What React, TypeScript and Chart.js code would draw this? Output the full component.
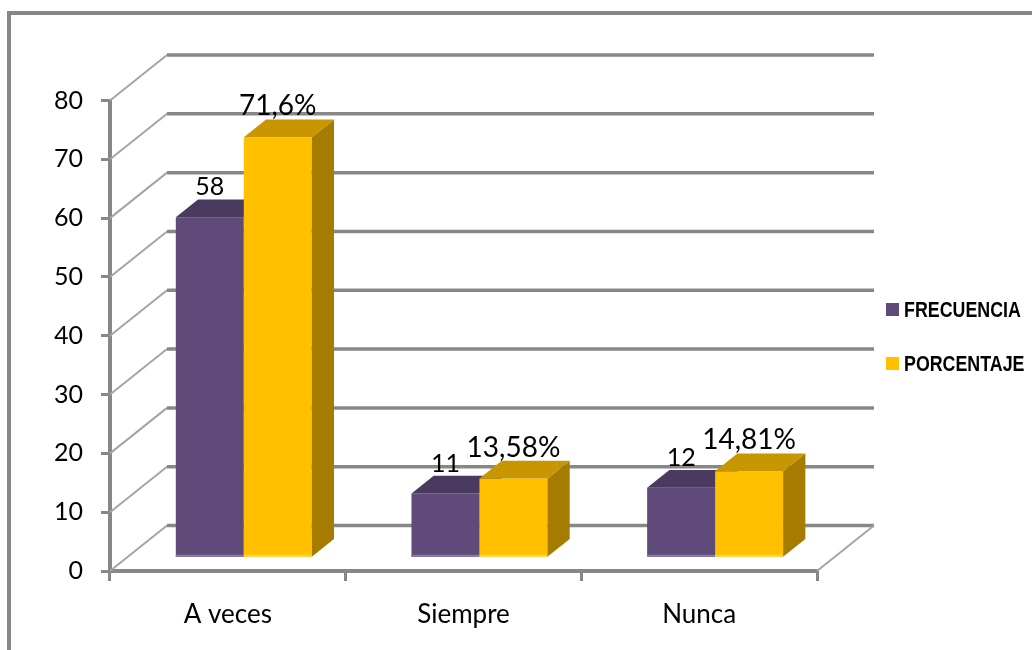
import React, { useEffect, useRef } from "react";
import { Chart, registerables } from "chart.js";

Chart.register(...registerables);

// ---- data ----
const categories = ["A veces", "Siempre", "Nunca"];
const seriesNames = ["FRECUENCIA", "PORCENTAJE"];
const frecuencia = [58, 11, 12];
const porcentaje = [71.6, 13.58, 14.81];
const yMin = 0;
const yMax = 80;
const yStep = 10;

// ---- styling ----
const FONT = "Lato, 'Open Sans', sans-serif";
const LEGEND_FONT = "'Liberation Sans', Arial, sans-serif";
const GRID = "#878787";
const WALL_LINE = "#a4a4a4";

// 3-D box: offset from the front plane to the back wall
const WALL_DX = 57;
const WALL_DY = -45.5;
// bars sit inside the box: front face depth and bar thickness (fractions of full depth)
const BAR_FRONT = 0.28;
const BAR_DEPTH = 0.39;

const faceColors = [
  { front: "#5f4a7a", top: "#4a3a60", side: "#3e3050", edge: "#8a7aa2" },
  { front: "#ffc000", top: "#c79600", side: "#a67c00", edge: "#ffd34f" },
];

function formatLabel(datasetIndex: number, v: number): string {
  if (datasetIndex === 1) return String(v).replace(".", ",") + "%";
  return String(v);
}

const box3d = {
  id: "box3d",
  beforeDatasetsDraw(chart: any) {
    const { ctx, chartArea: a, scales } = chart;
    const y = scales.y;
    ctx.save();
    ctx.lineCap = "butt";
    for (let v = yMin; v <= yMax; v += yStep) {
      const py = y.getPixelForValue(v);
      // left wall
      ctx.strokeStyle = WALL_LINE;
      ctx.lineWidth = 2;
      ctx.beginPath();
      ctx.moveTo(a.left, py);
      ctx.lineTo(a.left + WALL_DX, py + WALL_DY);
      ctx.stroke();
      // back wall
      ctx.strokeStyle = GRID;
      ctx.lineWidth = 3.5;
      ctx.beginPath();
      ctx.moveTo(a.left + WALL_DX, py + WALL_DY);
      ctx.lineTo(a.right + WALL_DX, py + WALL_DY);
      ctx.stroke();
    }
    // floor, right edge
    const p0 = y.getPixelForValue(yMin);
    ctx.strokeStyle = WALL_LINE;
    ctx.lineWidth = 2;
    ctx.beginPath();
    ctx.moveTo(a.right, p0);
    ctx.lineTo(a.right + WALL_DX, p0 + WALL_DY);
    ctx.stroke();
    ctx.restore();
  },
  // bar elements are painted back-to-front, category by category, in afterDatasetsDraw
  beforeDatasetDraw() {
    return false;
  },
  afterDatasetsDraw(chart: any) {
    const { ctx } = chart;
    const dx = WALL_DX * BAR_DEPTH;
    const dy = WALL_DY * BAR_DEPTH;
    ctx.save();
    ctx.translate(WALL_DX * BAR_FRONT, WALL_DY * BAR_FRONT);
    const n = chart.data.labels.length;
    for (let j = 0; j < n; j++) {
      chart.data.datasets.forEach((_ds: any, i: number) => {
        const bar = chart.getDatasetMeta(i).data[j];
        if (!bar) return;
        const c = faceColors[i];
        bar.draw(ctx);
        const { x, y, base, width } = bar.getProps(["x", "y", "base", "width"], true);
        const l = x - width / 2;
        const r = x + width / 2;
        ctx.fillStyle = c.edge;
        ctx.fillRect(l, base - 2, width, 2);
        ctx.fillStyle = c.side;
        ctx.beginPath();
        ctx.moveTo(r, y);
        ctx.lineTo(r + dx, y + dy);
        ctx.lineTo(r + dx, base + dy);
        ctx.lineTo(r, base);
        ctx.closePath();
        ctx.fill();
        ctx.fillStyle = c.top;
        ctx.beginPath();
        ctx.moveTo(l, y);
        ctx.lineTo(l + dx, y + dy);
        ctx.lineTo(r + dx, y + dy);
        ctx.lineTo(r, y);
        ctx.closePath();
        ctx.fill();
      });
    }
    ctx.restore();

    // value labels above each bar
    ctx.save();
    ctx.fillStyle = "#000";
    ctx.textAlign = "center";
    ctx.textBaseline = "alphabetic";
    chart.data.datasets.forEach((ds: any, i: number) => {
      const meta = chart.getDatasetMeta(i);
      ctx.font = `${i === 1 ? 28 : 25}px ${FONT}`;
      meta.data.forEach((bar: any, j: number) => {
        const { x, y } = bar.getProps(["x", "y"], true);
        const lx = x + WALL_DX * BAR_FRONT;
        const ly = y + WALL_DY * (BAR_FRONT + BAR_DEPTH) - 4;
        ctx.fillText(formatLabel(i, ds.data[j]), lx, ly);
      });
    });
    ctx.restore();
  },
  afterDraw(chart: any) {
    const { ctx } = chart;
    ctx.save();
    // chart frame
    ctx.strokeStyle = GRID;
    ctx.lineWidth = 4;
    ctx.beginPath();
    ctx.moveTo(9, 650);
    ctx.lineTo(9, 13);
    ctx.lineTo(1032, 13);
    ctx.stroke();

    // legend
    ctx.font = `bold 22px ${LEGEND_FONT}`;
    ctx.textBaseline = "alphabetic";
    ctx.textAlign = "left";
    chart.data.datasets.forEach((ds: any, i: number) => {
      const top = 303 + i * 54;
      ctx.fillStyle = ds.backgroundColor;
      ctx.fillRect(886, top, 13, 13);
      ctx.fillStyle = "#000";
      ctx.save();
      ctx.translate(904, top + 14);
      ctx.scale(0.81, 1);
      ctx.fillText(ds.label, 0, 0);
      ctx.restore();
    });
    ctx.restore();
  },
};

export default function App() {
  const canvasRef = useRef<HTMLCanvasElement | null>(null);

  useEffect(() => {
    const canvas = canvasRef.current;
    if (!canvas) return;
    const chart = new Chart(canvas, {
      type: "bar",
      data: {
        labels: categories,
        datasets: [
          {
            label: seriesNames[0],
            data: frecuencia,
            backgroundColor: faceColors[0].front,
            borderWidth: 0,
          },
          {
            label: seriesNames[1],
            data: porcentaje,
            backgroundColor: faceColors[1].front,
            borderWidth: 0,
          },
        ] as any,
      },
      options: {
        responsive: false,
        devicePixelRatio: 1,
        animation: false,
        events: [],
        layout: { padding: { top: 100.5, right: 215, bottom: 0, left: 0 } },
        datasets: {
          bar: { categoryPercentage: 0.577, barPercentage: 1 },
        } as any,
        plugins: {
          legend: { display: false },
          tooltip: { enabled: false },
          title: { display: false },
        },
        scales: {
          x: {
            grid: {
              display: true,
              drawOnChartArea: false,
              drawTicks: true,
              tickLength: 10,
              color: GRID,
              lineWidth: 3,
              offset: true,
            },
            border: { display: true, color: GRID, width: 4 },
            ticks: { font: { family: FONT, size: 26 }, color: "#000", padding: 18 },
            afterFit: (s: any) => {
              s.height = 79;
            },
          },
          y: {
            min: yMin,
            max: yMax,
            ticks: { stepSize: yStep, font: { family: FONT, size: 25 }, color: "#000", padding: 18 },
            grid: {
              drawOnChartArea: false,
              drawTicks: true,
              tickLength: 9,
              color: GRID,
              lineWidth: 3,
            },
            border: { display: true, color: GRID, width: 4 },
            afterFit: (s: any) => {
              s.width = 110;
            },
          },
        },
      } as any,
      plugins: [box3d],
    });
    return () => chart.destroy();
  }, []);

  return (
    <canvas
      ref={canvasRef}
      width={1032}
      height={650}
      style={{ position: "fixed", left: 0, top: 0, width: 1032, height: 650, background: "#fff" }}
    />
  );
}
